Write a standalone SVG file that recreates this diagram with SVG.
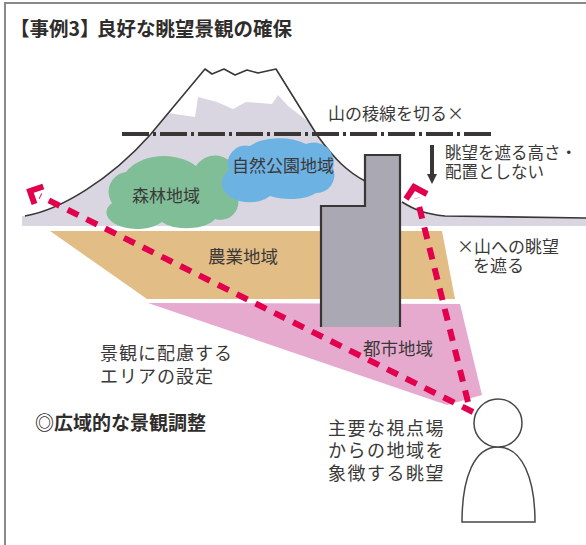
<svg xmlns="http://www.w3.org/2000/svg" width="586" height="545" viewBox="0 0 586 545">
  <style>
    .lbl { font-family: "Noto Sans CJK JP", "Noto Sans", sans-serif; fill: #3b3838; }
    .bold { font-weight: bold; fill: #2f2c2c; }
    .outline { fill: none; stroke: #3a3636; stroke-width: 1.6; stroke-linejoin: round; }
    .sight { fill: none; stroke: #e2004c; stroke-width: 6; stroke-dasharray: 12 9; }
    .chev { fill: none; stroke: #e2004c; stroke-width: 6; stroke-linejoin: miter; }
  </style>
  <defs>
    <marker id="down" viewBox="0 0 10 10" refX="2" refY="5" markerWidth="13" markerHeight="10" markerUnits="userSpaceOnUse" orient="auto">
      <path d="M0,0 L10,5 L0,10 Z" fill="#3a3636"/>
    </marker>
  </defs>

  <rect width="586" height="545" fill="#ffffff"/>
  <!-- frame -->
  <path d="M5,545 V3 H586" fill="none" stroke="#8b8888" stroke-width="2"/>

  <g id="title">
    <text class="lbl bold" x="10" y="36" font-size="19.5">【事例3】</text>
    <text class="lbl bold" x="97" y="36" font-size="19.5">良好な眺望景観の確保</text>
  </g>

  <g id="mountain">
    <path d="M22,226 V216 L25,216 C60,210 110,180 150,135 L205,69 L212,74 L224,69 L235,75 L247,70 L258,73 L276,69 L317,135 C335,160 348,172 365,181 L402,202 C415,210 425,214 445,216 L586,218 V226 Z" fill="#d9d6e2"/>
    <path d="M168,113 L205,69 L212,74 L224,69 L235,75 L247,70 L258,73 L276,69 L309,122 L288,106 L278,95 L272,104 L246,102 L233,109 L217,102 L198,97 L195,117 Z" fill="#ffffff"/>
    <path class="outline" d="M25,216 C60,210 110,180 150,135 L205,69 L212,74 L224,69 L235,75 L247,70 L258,73 L276,69 L317,135 C335,160 348,172 365,181"/>
    <path class="outline" d="M402,202 C415,210 425,214 445,216 L586,218"/>
  </g>

  <g id="forest">
    <path d="M112,203 A20,20 0 0 1 126,172 A42,28 0 0 1 196,166 A22,22 0 0 1 234,190 A18,18 0 0 1 215,219 A30,14 0 0 1 162,222 A26,14 0 0 1 112,203 Z" fill="#7fbe96"/>
    <text class="lbl" x="132" y="202" font-size="17">森林地域</text>
  </g>

  <g id="park">
    <path d="M229,170 A18,18 0 0 1 250,146 A36,18 0 0 1 306,144 A20,20 0 0 1 333,168 A18,18 0 0 1 316,193 A30,12 0 0 1 270,196 A20,14 0 0 1 229,170 Z" fill="#6cb2e3"/>
    <text class="lbl" x="232" y="172" font-size="17">自然公園地域</text>
  </g>

  <g id="farmland">
    <path d="M50,231 L442,231 L455,299 L147,299 Z" fill="#e3bd86"/>
    <text class="lbl" x="208" y="263" font-size="17.5">農業地域</text>
  </g>

  <g id="urban">
    <path d="M148,303 L460,304 L482,395 L447,405 Z" fill="#e6aacf"/>
    <text class="lbl" x="363" y="355" font-size="17.5">都市地域</text>
  </g>

  <g id="building">
    <path d="M321,327 V206 H365 V155 H400 V327 Z" fill="#a9a8b3"/>
    <path d="M321,327 V206 H365 V155 H400 V327" fill="none" stroke="#3a3636" stroke-width="2.2"/>
  </g>

  <g id="viewer">
    <path d="M462,522 C462,478 474,447 498,447 C522,447 535,478 535,522 Z" fill="#ffffff" stroke="#4a4646" stroke-width="1.5"/>
    <circle cx="498" cy="423" r="24" fill="#ffffff" stroke="#4a4646" stroke-width="1.5"/>
  </g>

  <g id="connectors">
    <!-- ridge line -->
    <line x1="122" y1="134" x2="492" y2="134" stroke="#3a3636" stroke-width="4" stroke-dasharray="27 4 3 4"/>
    <!-- height limit arrow -->
    <line x1="432" y1="145" x2="432" y2="176" stroke="#3a3636" stroke-width="4" marker-end="url(#down)"/>
    <!-- sight lines -->
    <line class="sight" x1="473" y1="412" x2="40" y2="196"/>
    <polyline class="chev" points="34.5,204 30,191 43.3,186.5"/>
    <line class="sight" x1="468" y1="402" x2="417" y2="198"/>
    <polyline class="chev" points="406,199 414,187 427,194"/>
  </g>

  <g id="labels">
    <text class="lbl" x="328" y="120" font-size="17">山の稜線を切る×</text>
    <text class="lbl" x="445" y="159" font-size="16.5">眺望を遮る高さ・</text>
    <text class="lbl" x="445" y="178" font-size="16.5">配置としない</text>
    <text class="lbl" x="457" y="253" font-size="17">×山への眺望</text>
    <text class="lbl" x="473" y="272" font-size="17">を遮る</text>
    <text class="lbl" x="100" y="360" font-size="18" letter-spacing="1">景観に配慮する</text>
    <text class="lbl" x="100" y="383" font-size="18" letter-spacing="1">エリアの設定</text>
    <text class="lbl bold" x="35" y="430" font-size="19">◎広域的な景観調整</text>
    <text class="lbl" x="328" y="435" font-size="18" letter-spacing="1.5">主要な視点場</text>
    <text class="lbl" x="328" y="457" font-size="18" letter-spacing="1.5">からの地域を</text>
    <text class="lbl" x="328" y="480" font-size="18" letter-spacing="1.5">象徴する眺望</text>
  </g>
</svg>
